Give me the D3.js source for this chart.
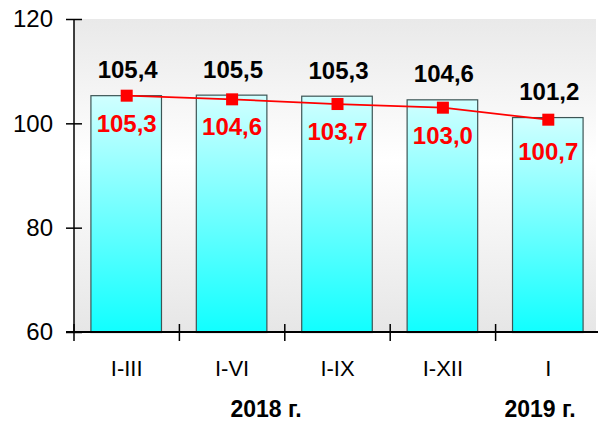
<!DOCTYPE html>
<html>
<head>
<meta charset="utf-8">
<script src="https://cdn.jsdelivr.net/npm/d3@7"></script>
<style>
  body { margin: 0; background: #fff; }
  text { font-family: "Liberation Sans", Arial, sans-serif; }
</style>
</head>
<body>
<script>
// data
var periods = ["I-III", "I-VI", "I-IX", "I-XII", "I"];
var barValues = [105.4, 105.5, 105.3, 104.6, 101.2];
var lineValues = [105.3, 104.6, 103.7, 103.0, 100.7];
var yTicks = [60, 80, 100, 120];
var years = [{label: "2018 г.", x: 266}, {label: "2019 г.", x: 540}];

var fmt = d => d.toFixed(1).replace(".", ",");

var W = 598, H = 425;
var plotLeft = 74, plotTop = 19, plotBottom = 332, plotRight = 601;

var svg = d3.select("body").append("svg")
    .attr("width", W)
    .attr("height", H);

var defs = svg.append("defs");
var bg = defs.append("linearGradient").attr("id", "bg")
    .attr("x1", 0).attr("y1", 0).attr("x2", 0).attr("y2", 1);
bg.append("stop").attr("offset", "0%").attr("stop-color", "#e9e9e9");
bg.append("stop").attr("offset", "45%").attr("stop-color", "#ffffff");
bg.append("stop").attr("offset", "100%").attr("stop-color", "#e6e6e6");

var barGrad = defs.append("linearGradient").attr("id", "barGrad")
    .attr("x1", 0).attr("y1", 0).attr("x2", 0).attr("y2", 1);
barGrad.append("stop").attr("offset", "0%").attr("stop-color", "#d0ffff");
barGrad.append("stop").attr("offset", "100%").attr("stop-color", "#10ffff");

var x = d3.scaleBand().domain(periods).range([plotLeft, plotRight])
    .paddingInner(0.34).paddingOuter(0.17);
var y = d3.scaleLinear().domain([60, 120]).range([plotBottom, plotTop]);

// plot background
svg.append("rect")
    .attr("x", plotLeft).attr("y", plotTop)
    .attr("width", 596 - plotLeft).attr("height", plotBottom - plotTop)
    .attr("fill", "url(#bg)");

// bars
svg.append("g").selectAll("rect")
    .data(barValues)
    .join("rect")
    .attr("x", (d, i) => x(periods[i]) - 1)
    .attr("y", d => y(d) + 0.5)
    .attr("width", x.bandwidth() + 1)
    .attr("height", d => y(60) - y(d))
    .attr("fill", "url(#barGrad)")
    .attr("stroke", "#3d5555")
    .attr("stroke-width", 1.2);

// y axis
var yAxis = svg.append("g")
    .attr("transform", `translate(${plotLeft},0)`)
    .call(d3.axisLeft(y).tickValues(yTicks).tickSize(8).tickPadding(13));
svg.append("g")
    .attr("transform", `translate(${plotLeft},0)`)
    .call(d3.axisRight(y).tickValues(yTicks).tickSize(8).tickFormat(""))
    .select(".domain").remove();
yAxis.selectAll("text")
    .attr("font-size", 24)
    .attr("font-family", "Liberation Sans, Arial, sans-serif")
    .attr("fill", "#000");
yAxis.select(".domain").attr("d", `M0,${plotTop}V${plotBottom}`);
svg.selectAll(".tick line, .domain").attr("stroke", "#000").attr("stroke-width", 1.5);

// x axis
var xg = svg.append("g");
xg.append("line")
    .attr("x1", plotLeft - 8).attr("x2", W)
    .attr("y1", plotBottom).attr("y2", plotBottom)
    .attr("stroke", "#000").attr("stroke-width", 1.8);
xg.selectAll("line.xt")
    .data(d3.range(periods.length))
    .join("line")
    .attr("class", "xt")
    .attr("x1", i => x(periods[i]) - x.step() * x.paddingOuter())
    .attr("x2", i => x(periods[i]) - x.step() * x.paddingOuter())
    .attr("y1", plotBottom - 8).attr("y2", plotBottom + 9)
    .attr("stroke", "#000").attr("stroke-width", 1.5);
xg.selectAll("text")
    .data(periods)
    .join("text")
    .attr("x", d => x(d) + x.bandwidth() / 2)
    .attr("y", 376)
    .attr("text-anchor", "middle")
    .attr("font-size", 22)
    .text(d => d);

svg.append("g").selectAll("text")
    .data(years)
    .join("text")
    .attr("x", d => d.x)
    .attr("y", 417)
    .attr("text-anchor", "middle")
    .attr("font-size", 23)
    .attr("font-weight", "bold")
    .text(d => d.label);

// line
var cx = i => x(periods[i]) + x.bandwidth() / 2;
svg.append("path")
    .datum(lineValues)
    .attr("fill", "none")
    .attr("stroke", "#ff0000")
    .attr("stroke-width", 1.8)
    .attr("d", d3.line().x((d, i) => cx(i)).y(d => y(d)));
svg.append("g").selectAll("rect")
    .data(lineValues)
    .join("rect")
    .attr("x", (d, i) => cx(i) - 6)
    .attr("y", d => y(d) - 6)
    .attr("width", 12).attr("height", 12)
    .attr("fill", "#ff0000");

// labels
svg.append("g").selectAll("text")
    .data(barValues)
    .join("text")
    .attr("x", (d, i) => cx(i) + 1)
    .attr("y", d => y(d) - 17)
    .attr("text-anchor", "middle")
    .attr("font-size", 24)
    .attr("font-weight", "bold")
    .attr("fill", "#000")
    .text(fmt);

svg.append("g").selectAll("text")
    .data(lineValues)
    .join("text")
    .attr("x", (d, i) => cx(i))
    .attr("y", (d, i) => y(d) + (i === 4 ? 40 : 36))
    .attr("text-anchor", "middle")
    .attr("font-size", 24)
    .attr("font-weight", "bold")
    .attr("fill", "#ff0000")
    .text(fmt);
</script>
</body>
</html>
